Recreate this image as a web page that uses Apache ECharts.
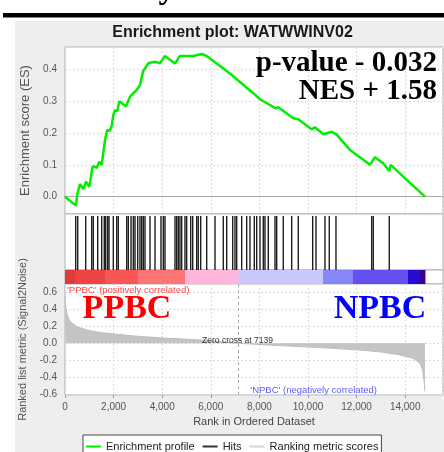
<!DOCTYPE html>
<html><head><meta charset="utf-8">
<script src="https://cdn.jsdelivr.net/npm/echarts@6/dist/echarts.min.js"></script>
<style>html,body{margin:0;padding:0;background:#fff}#c{width:444px;height:452px}</style>
</head><body><div id="c"></div>
<script>
// ---- data ----
const esRank = [0, 453, 506, 617, 753, 864, 1000, 1140, 1304, 1411, 1510, 1646, 1741, 1831, 1922, 1988, 2058, 2152, 2234, 2510, 2675, 2950, 3086, 3222, 3428, 3704, 3909, 4115, 4527, 4732, 5280, 5625, 5831, 6790, 7749, 8024, 8436, 8683, 8777, 9395, 9600, 10152, 10288, 10629, 10975, 11181, 11728, 12551, 12757, 13098, 13345, 13402, 13921, 14814];
const esValue = [0, -0.028, 0.008, 0.040, 0.024, 0.047, 0.031, 0.096, 0.091, 0.110, 0.100, 0.178, 0.210, 0.206, 0.222, 0.257, 0.272, 0.268, 0.300, 0.283, 0.314, 0.335, 0.351, 0.395, 0.419, 0.424, 0.419, 0.442, 0.418, 0.442, 0.442, 0.448, 0.442, 0.387, 0.325, 0.306, 0.288, 0.277, 0.281, 0.246, 0.243, 0.212, 0.218, 0.196, 0.204, 0.195, 0.147, 0.100, 0.124, 0.105, 0.081, 0.100, 0.063, 0.000];
const hitRanks = [440, 523, 852, 1099, 1165, 1346, 1510, 1617, 1675, 1757, 1811, 1988, 2127, 2193, 2539, 2605, 2716, 2811, 2881, 2992, 3086, 3156, 3222, 3292, 3498, 3704, 3950, 4045, 4115, 4527, 4597, 4662, 4732, 4802, 4938, 5008, 5173, 5255, 5420, 5485, 5584, 5831, 6173, 6514, 6654, 6901, 6996, 7066, 7271, 7477, 7613, 7790, 7889, 8024, 8160, 8230, 8366, 8642, 8712, 8983, 9329, 9600, 10193, 10329, 10699, 10876, 11152, 12621, 12687, 13345];
const metricRank = [0, 20, 70, 206, 481, 893, 1440, 2127, 2811, 4185, 5555, 7139, 8300, 9670, 11041, 12415, 13098, 13785, 14333, 14608, 14719, 14773, 14814];
const metricValue = [0.55, 0.45, 0.355, 0.256, 0.197, 0.157, 0.126, 0.106, 0.086, 0.059, 0.039, 0.0, -0.02, -0.04, -0.06, -0.087, -0.107, -0.138, -0.178, -0.237, -0.316, -0.434, -0.57];
const barStart = [0, 411, 1646, 3004, 4938, 7139, 10617, 11852, 14115, 14608];
const barEnd   = [411, 1646, 3004, 4938, 7139, 10617, 11852, 14115, 14608, 14814];
const barColors = ['#e03a3a', '#ee4444', '#f65656', '#fc7474', '#ffb6dc', '#c8c8fc', '#8686f8', '#6450ee', '#2a0cd0', '#3c0090'];
const zeroCross = 7139;
const xMax = 15556;
const esTicksLabelDigits = 1;
const legendNames = ['Enrichment profile', 'Hits', 'Ranking metric scores'];

// ---- chart ----
const chart = echarts.init(document.getElementById('c'), null, {renderer: 'canvas', width: 444, height: 452});
const thousands = v => String(Math.round(v)).replace(/\B(?=(\d{3})+(?!\d))/g, ',');
const L = 65, W = 378;
const gridStyle = {show: true, backgroundColor: '#fff', borderColor: '#b0b0b0', borderWidth: 1};
const dashed = {show: true, lineStyle: {color: '#dcdcdc', type: [2, 2], width: 1}};

const xBase = gi => ({type: 'value', gridIndex: gi, min: 0, max: xMax, interval: 2000});

chart.setOption({
  backgroundColor: '#eeeeee',
  animation: false,
  grid: [
    Object.assign({left: L, top: 47, width: W, height: 167}, gridStyle),
    Object.assign({left: L, top: 214, width: W, height: 56}, gridStyle),
    Object.assign({left: L, top: 270, width: W, height: 14}, gridStyle),
    Object.assign({left: L, top: 284, width: W, height: 111}, gridStyle)
  ],
  xAxis: [
    Object.assign(xBase(0), {axisLine: {show: true, onZero: true, lineStyle: {color: '#aaaaaa'}}, axisTick: {show: false}, axisLabel: {show: false}, splitLine: dashed}),
    Object.assign(xBase(1), {show: false}),
    Object.assign(xBase(2), {show: false}),
    Object.assign(xBase(3), {
      axisLine: {show: false, onZero: false},
      axisTick: {show: true, length: 3, lineStyle: {color: '#999'}},
      axisLabel: {fontSize: 10, color: '#555', margin: 7, fontFamily: 'Liberation Sans, Arial', formatter: thousands, showMaxLabel: false},
      splitLine: dashed,
      name: 'Rank in Ordered Dataset', nameLocation: 'middle', nameGap: 21,
      nameTextStyle: {fontSize: 11, color: '#444', fontFamily: 'Liberation Sans, Arial'}
    })
  ],
  yAxis: [
    {type: 'value', gridIndex: 0, min: -0.0543, max: 0.470, minInterval: 0.1, maxInterval: 0.1,
     axisLine: {show: false}, axisTick: {show: false}, splitLine: dashed,
     axisLabel: {fontSize: 10, color: '#555', margin: 8, fontFamily: 'Liberation Sans, Arial', formatter: v => v.toFixed(esTicksLabelDigits), showMinLabel: false, showMaxLabel: false},
     name: 'Enrichment score (ES)', nameLocation: 'middle', nameGap: 26,
     nameTextStyle: {fontSize: 13, color: '#555', fontFamily: 'Liberation Sans, Arial'}},
    {type: 'value', gridIndex: 1, min: 0, max: 1, show: false},
    {type: 'value', gridIndex: 2, min: 0, max: 1, show: false},
    {type: 'value', gridIndex: 3, min: -0.612, max: 0.70, minInterval: 0.2, maxInterval: 0.2,
     axisLine: {show: false}, axisTick: {show: false}, splitLine: dashed,
     axisLabel: {fontSize: 10, color: '#555', margin: 8, fontFamily: 'Liberation Sans, Arial', formatter: v => v.toFixed(1), showMinLabel: false, showMaxLabel: false},
     name: 'Ranked list metric (Signal2Noise)', nameLocation: 'middle', nameGap: 26,
     nameTextStyle: {fontSize: 11, color: '#555', fontFamily: 'Liberation Sans, Arial'}}
  ],
  legend: {
    data: legendNames, left: 83, top: 435, itemWidth: 15, itemHeight: 2, icon: 'rect', itemGap: 8,
    borderColor: '#444', borderWidth: 1, padding: [6, 3, 12, 3], backgroundColor: '#fff',
    textStyle: {fontSize: 11, color: '#222', fontFamily: 'Liberation Sans, Arial'}
  },
  series: [
    {name: legendNames[0], type: 'line', xAxisIndex: 0, yAxisIndex: 0, showSymbol: false, z: 5,
     data: esRank.map((r, i) => [r, esValue[i]]),
     itemStyle: {color: '#00ee00'}, lineStyle: {color: '#00ee00', width: 2.5}},
    {name: legendNames[1], type: 'custom', xAxisIndex: 1, yAxisIndex: 1,
     itemStyle: {color: '#333333'},
     data: hitRanks.map(r => [r]),
     renderItem: (params, api) => {
       const x = api.coord([api.value(0), 0])[0];
       const y0 = api.coord([0, 0])[1];
       const y1 = api.coord([0, 1])[1];
       return {type: 'line', shape: {x1: x, y1: y0, x2: x, y2: y1 + 2}, style: {stroke: '#1e1e1e', lineWidth: 1.4}};
     }},
    {name: 'bar', type: 'custom', xAxisIndex: 2, yAxisIndex: 2,
     data: barStart.map((s, i) => [s, barEnd[i], i]),
     renderItem: (params, api) => {
       const p0 = api.coord([api.value(0), 1]);
       const p1 = api.coord([api.value(1), 0]);
       return {type: 'rect', shape: {x: p0[0], y: p0[1], width: p1[0] - p0[0] + 0.5, height: p1[1] - p0[1]},
               style: {fill: barColors[api.value(2)]}};
     }},
    {name: legendNames[2], type: 'line', xAxisIndex: 3, yAxisIndex: 3, showSymbol: false,
     data: metricRank.map((r, i) => [r, metricValue[i]]),
     itemStyle: {color: '#d6d6d6'}, lineStyle: {color: '#bdbdbd', width: 1},
     areaStyle: {color: '#c4c4c4', opacity: 1},
     markLine: {silent: true, symbol: 'none', label: {show: false},
                lineStyle: {color: '#a8a8a8', type: [3, 3], width: 1},
                data: [{xAxis: zeroCross}]}}
  ],
  graphic: [
    {type: 'rect', shape: {x: 0, y: 0, width: 444, height: 21}, style: {fill: '#fff'}, z: 0},
    {type: 'rect', shape: {x: 0, y: 0, width: 15, height: 452}, style: {fill: '#fff'}, z: 0},
    {type: 'rect', shape: {x: 3, y: 13, width: 441, height: 4.5}, style: {fill: '#000'}, z: 1},
    {type: 'text', x: 167, y: 6, z: 1, style: {text: 'y', font: 'bold 34px "Liberation Serif"', fill: '#000', align: 'center', verticalAlign: 'bottom'}},
    {type: 'text', x: 232.5, y: 33, z: 10, style: {text: 'Enrichment plot: WATWWINV02', font: 'bold 16px "Liberation Sans", Arial', fill: '#1a1a1a', align: 'center', verticalAlign: 'middle'}},
    {type: 'text', x: 437, y: 64, z: 100, style: {text: 'p-value - 0.032', font: 'bold 29px "Liberation Serif"', fill: '#000', align: 'right', verticalAlign: 'middle'}},
    {type: 'text', x: 437, y: 91.5, z: 100, style: {text: 'NES + 1.58', font: 'bold 29px "Liberation Serif"', fill: '#000', align: 'right', verticalAlign: 'middle'}},
    {type: 'text', x: 127, y: 309, z: 100, style: {text: 'PPBC', font: 'bold 34px "Liberation Serif"', fill: '#ff0000', align: 'center', verticalAlign: 'middle'}},
    {type: 'text', x: 380, y: 309, z: 100, style: {text: 'NPBC', font: 'bold 34px "Liberation Serif"', fill: '#0000ff', align: 'center', verticalAlign: 'middle'}},
    {type: 'text', x: 67, y: 290, z: 100, style: {text: "'PPBC' (positively correlated)", font: '9.5px "Liberation Sans", Arial', fill: '#ff4a4a', align: 'left', verticalAlign: 'middle'}},
    {type: 'text', x: 377, y: 390, z: 100, style: {text: "'NPBC' (negatively correlated)", font: '9.5px "Liberation Sans", Arial', fill: '#5c5cff', align: 'right', verticalAlign: 'middle'}},
    {type: 'text', x: 237.5, y: 341, z: 100, style: {text: 'Zero cross at 7139', font: '8.5px "Liberation Sans", Arial', fill: '#333', align: 'center', verticalAlign: 'middle'}}
  ]
});
</script></body></html>
